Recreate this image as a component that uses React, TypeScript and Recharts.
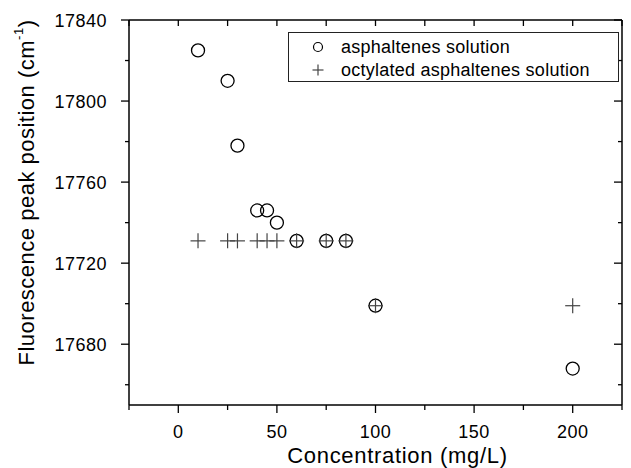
import { ScatterChart, Scatter, XAxis, YAxis, Legend } from 'recharts';

const concentrations = [10, 25, 30, 40, 45, 50, 60, 75, 85, 100, 200];
const asphaltenes = [17825, 17810, 17778, 17746, 17746, 17740, 17731, 17731, 17731, 17699, 17668];
const octylated = [17731, 17731, 17731, 17731, 17731, 17731, 17731, 17731, 17731, 17699, 17699];

const xTicks = [-25, 0, 25, 50, 75, 100, 125, 150, 175, 200, 225];
const yTicks = [17660, 17680, 17700, 17720, 17740, 17760, 17780, 17800, 17820, 17840];

const asphData = concentrations.map((c, i) => ({ x: c, y: asphaltenes[i] }));
const octData = concentrations.map((c, i) => ({ x: c, y: octylated[i] }));

const FONT = '"Liberation Sans", Arial, Helvetica, sans-serif';
const AXIS = '#000';

function BottomTick(props: any) {
  const { x, y, payload } = props;
  const major = payload.value % 50 === 0;
  return (
    <g>
      <line x1={x} y1={y} x2={x} y2={y + (major ? 8 : 5)} stroke={AXIS} strokeWidth={1.3} />
      {major && (
        <text x={x} y={y + 33} textAnchor="middle" fontSize={18} letterSpacing={0.5} fontFamily={FONT} fill="#000">
          {payload.value}
        </text>
      )}
    </g>
  );
}

function TopTick(props: any) {
  const { x, y } = props;
  return <line x1={x} y1={y} x2={x} y2={y + 6} stroke={AXIS} strokeWidth={1.3} />;
}

function LeftTick(props: any) {
  const { x, y, payload } = props;
  const major = (payload.value - 17680) % 40 === 0;
  return (
    <g>
      <line x1={x - (major ? 8 : 4)} y1={y} x2={x} y2={y} stroke={AXIS} strokeWidth={1.3} />
      {major && (
        <text x={x - 22} y={y + 7} textAnchor="end" fontSize={18} letterSpacing={0.5} fontFamily={FONT} fill="#000">
          {payload.value}
        </text>
      )}
    </g>
  );
}

function RightTick(props: any) {
  const { x, y, payload } = props;
  const major = (payload.value - 17680) % 40 === 0;
  return <line x1={x - (major ? 8 : 4)} y1={y} x2={x} y2={y} stroke={AXIS} strokeWidth={1.3} />;
}

const CircleShape = (props: any) => (
  <circle cx={props.cx} cy={props.cy} r={6.5} fill="none" stroke="#000" strokeWidth={1.3} />
);

const PlusShape = (props: any) => (
  <g stroke="#444" strokeWidth={1.2}>
    <line x1={props.cx - 7.5} y1={props.cy} x2={props.cx + 7.5} y2={props.cy} />
    <line x1={props.cx} y1={props.cy - 7.5} x2={props.cx} y2={props.cy + 7.5} />
  </g>
);

function LegendBox() {
  const row = { position: 'absolute' as const, left: 0, height: 22, display: 'flex', alignItems: 'center' };
  return (
    <div style={{ position: 'relative', width: 331, height: 50, border: '1px solid #222', boxSizing: 'border-box', fontFamily: FONT, fontSize: 18, letterSpacing: 0.25, background: '#fff' }}>
      <div style={{ ...row, top: 3 }}>
        <svg width={52} height={22}>
          <circle cx={29} cy={11} r={4.5} fill="none" stroke="#000" strokeWidth={1.2} />
        </svg>
        <span>asphaltenes solution</span>
      </div>
      <div style={{ ...row, top: 26 }}>
        <svg width={52} height={22}>
          <line x1={23.5} y1={11} x2={34.5} y2={11} stroke="#444" strokeWidth={1.2} />
          <line x1={29} y1={5.5} x2={29} y2={16.5} stroke="#444" strokeWidth={1.2} />
        </svg>
        <span>octylated asphaltenes solution</span>
      </div>
    </div>
  );
}

export default function App() {
  return (
    <ScatterChart width={623} height={460} margin={{ top: 11, right: 8, bottom: 0, left: 0 }}>
      <XAxis
        xAxisId="bottom"
        dataKey="x"
        type="number"
        domain={[-25, 225]}
        ticks={xTicks}
        interval={0}
        height={63}
        tickSize={0}
        tickMargin={0}
        tickLine={false}
        tick={<BottomTick />}
        axisLine={{ stroke: AXIS, strokeWidth: 1.5 }}
        label={{
          content: (p: any) => {
            const vb = p.viewBox;
            return (
              <text x={vb.x + vb.width / 2 + 22} y={vb.y + 58} textAnchor="middle" fontSize={22} letterSpacing={0.7} fontFamily={FONT} fill="#000">
                Concentration (mg/L)
              </text>
            );
          },
        }}
      />
      <XAxis
        xAxisId="top"
        orientation="top"
        dataKey="x"
        type="number"
        domain={[-25, 225]}
        ticks={xTicks}
        interval={0}
        height={1}
        tickSize={0}
        tickMargin={0}
        tickLine={false}
        tick={<TopTick />}
        axisLine={{ stroke: AXIS, strokeWidth: 1.5 }}
      />
      <YAxis
        yAxisId="left"
        dataKey="y"
        type="number"
        domain={[17650, 17840]}
        ticks={yTicks}
        interval={0}
        width={121}
        tickSize={0}
        tickMargin={0}
        tickLine={false}
        tick={<LeftTick />}
        axisLine={{ stroke: AXIS, strokeWidth: 1.5 }}
        label={{
          content: (p: any) => {
            const vb = p.viewBox;
            const cx = 18;
            const cy = vb.y + vb.height / 2 - 20;
            return (
              <text x={cx} y={cy} transform={`rotate(-90, ${cx}, ${cy})`} textAnchor="middle" dominantBaseline="central" fontSize={22} letterSpacing={0.5} fontFamily={FONT} fill="#000">
                Fluorescence peak position (cm
                <tspan fontSize={13} dy={-8}>-1</tspan>
                <tspan dy={8}>)</tspan>
              </text>
            );
          },
        }}
      />
      <YAxis
        yAxisId="right"
        orientation="right"
        dataKey="y"
        type="number"
        domain={[17650, 17840]}
        ticks={yTicks}
        interval={0}
        width={1}
        tickSize={0}
        tickMargin={0}
        tickLine={false}
        tick={<RightTick />}
        axisLine={{ stroke: AXIS, strokeWidth: 1.5 }}
      />
      <Legend
        layout="vertical"
        align="center"
        verticalAlign="middle"
        content={() => <LegendBox />}
        wrapperStyle={{ left: 280, top: 24, width: 331, height: 50 }}
      />
      <Scatter
        name="asphaltenes solution"
        data={asphData}
        xAxisId="bottom"
        yAxisId="left"
        shape={<CircleShape />}
        isAnimationActive={false}
      />
      <Scatter
        name="octylated asphaltenes solution"
        data={octData}
        xAxisId="top"
        yAxisId="right"
        shape={<PlusShape />}
        isAnimationActive={false}
      />
    </ScatterChart>
  );
}
